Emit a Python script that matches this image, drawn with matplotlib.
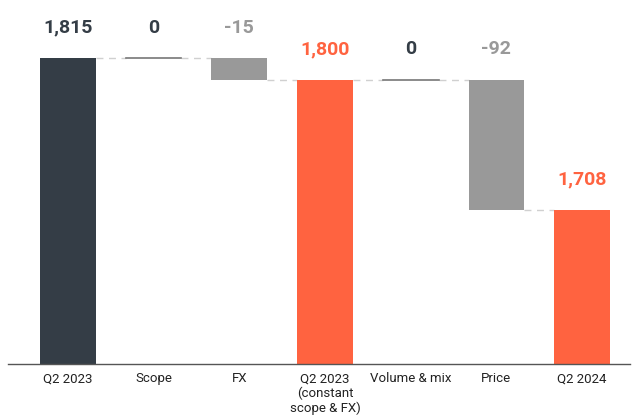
import matplotlib.pyplot as plt

categories = ['Q2 2023', 'Scope', 'FX', 'Q2 2023\n(constant\nscope & FX)', 'Volume & mix', 'Price', 'Q2 2024']
values = [1815, 0, -15, 1800, 0, -92, 1708]
is_total = [True, False, False, True, False, False, True]
labels = ['1,815', '0', '-15', '1,800', '0', '-92', '1,708']

dark = '#343d46'
orange = '#ff6340'
grey = '#999999'

plt.rcParams['font.family'] = ['Roboto', 'DejaVu Sans']

fig = plt.figure(figsize=(6.38, 4.15), dpi=100)
ax = fig.add_axes([8 / 638, (415 - 364) / 415, 622 / 638, 364 / 415])

width = 0.65
running = 0
for i, (v, tot) in enumerate(zip(values, is_total)):
    if tot:
        bottom, top = 1600, v
        color = dark if i == 0 else orange
        lab_color = color
        running = v
    else:
        start = running
        running = running + v
        bottom, top = min(start, running), max(start, running)
        color = grey
        lab_color = grey if v != 0 else dark
    if top - bottom > 0:
        ax.bar(i, top - bottom, bottom=bottom, width=width, color=color, zorder=2)
    else:
        ax.plot([i - width / 2, i + width / 2], [top, top], color='#777777', lw=1.2, zorder=2)
    # connector to next bar
    if i < len(values) - 1:
        ax.plot([i + width / 2, i + 1 - width / 2], [running, running],
                color='#d0d0d0', lw=1, ls=(0, (5, 4)), zorder=1)
    ax.annotate(labels[i], (i, top), xytext=(0, 22), textcoords='offset points',
                ha='center', va='center', fontsize=14, fontweight='bold', color=lab_color)

ax.set_xlim(-0.7, 6.56)
ax.set_ylim(1600, 1856)
ax.set_xticks(range(len(categories)))
ax.set_xticklabels(categories, fontsize=9.5, color='#222222', linespacing=1.12, va='top')
ax.tick_params(axis='x', length=0, pad=6)
ax.set_yticks([])
for s in ['top', 'left', 'right']:
    ax.spines[s].set_visible(False)
ax.spines['bottom'].set_color('#555555')
ax.spines['bottom'].set_linewidth(1)

fig.savefig('out.png', dpi=100)
